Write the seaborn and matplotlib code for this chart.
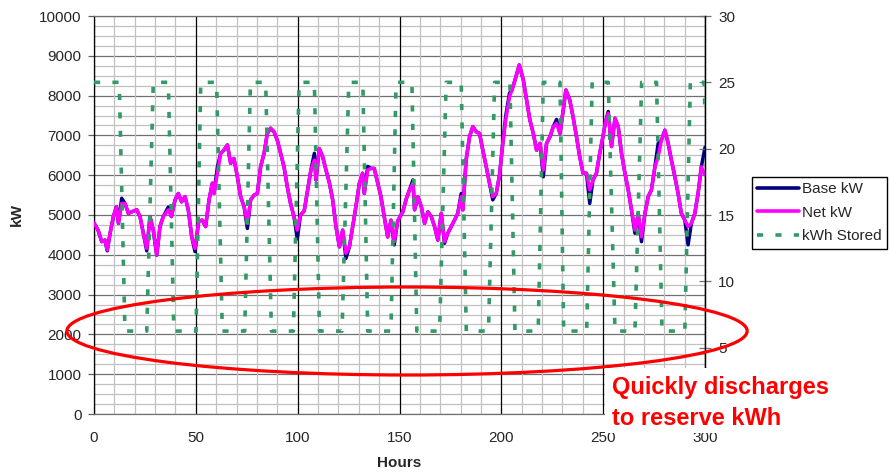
import matplotlib
matplotlib.use("Agg")
import matplotlib.pyplot as plt
import seaborn as sns
import pandas as pd
from matplotlib.patches import Ellipse, Rectangle
from matplotlib.ticker import MultipleLocator
from matplotlib.lines import Line2D

# ---------------- data ----------------
hours = [0, 2, 3.8, 5.4, 6.5, 7.9, 9.5, 11, 12, 13.6,
         15.2, 16.9, 18.5, 21, 22.6, 24.2, 25.9, 27.5, 29.1, 30.8,
         32.4, 34, 36.5, 38, 39.8, 41.4, 43, 44.7, 46.3, 48,
         49.6, 51.4, 53.2, 54.8, 56.5, 58.1, 58.9, 60.6, 62.2, 63.8,
         65.5, 67.1, 68.7, 70.4, 72, 73.7, 75.3, 76.9, 78.6, 80.2,
         81.8, 83.5, 85.1, 86.7, 88.4, 90, 91.6, 93.3, 94.9, 96.5,
         98.2, 99.8, 101.4, 103.2, 104.9, 106.5, 108.2, 109, 110.6, 112.3,
         113.9, 115.6, 117.2, 118.8, 120.5, 122.1, 123.7, 125.4, 127, 128.6,
         130.3, 131.9, 132.7, 134.4, 136, 137.6, 139.3, 140.9, 142.5, 144.2,
         145.8, 147.4, 149.1, 151.6, 153.3, 154.9, 156.6, 157.4, 159, 160.7,
         162.3, 163.9, 165.6, 167.2, 168.8, 170.5, 172.1, 173.7, 175.4, 177,
         178.6, 180.3, 181.1, 182.7, 184.4, 186, 187.7, 189.3, 190.9, 192.6,
         194.2, 195.8, 197.5, 199.1, 200.7, 202.2, 204, 205.2, 206.7, 208.8,
         210.8, 212.4, 214, 215.7, 217.3, 219, 220.6, 222.2, 223.9, 225.5,
         227.1, 228.8, 230.4, 231.7, 233.6, 235.2, 236.9, 238.5, 240.1, 241.8,
         243.4, 245, 246.7, 248.3, 249.9, 251.2, 252.5, 254.1, 255.8, 257.4,
         259, 260.7, 262.3, 263.9, 265.6, 267.2, 268.8, 270.5, 272.1, 273.7,
         275.4, 277, 278.6, 280.3, 281.9, 283.5, 285.2, 286.8, 288.4, 290.1,
         291.7, 293.3, 295, 296.6, 298.2, 300]

net_kw = [4800, 4620, 4330, 4370, 4120, 4540, 4960, 5210, 4790, 5290,
          5290, 5040, 5080, 5130, 4960, 4540, 4160, 4960, 4620, 3990,
          4710, 4960, 5130, 4960, 5380, 5540, 5330, 5460, 5130, 4450,
          4160, 4850, 4870, 4710, 5380, 5800, 5540, 6050, 6550, 6630,
          6760, 6300, 6420, 5960, 5460, 5210, 4790, 5380, 5500, 5540,
          6210, 6550, 7050, 7180, 7090, 6880, 6550, 6210, 5710, 5290,
          4960, 4620, 5000, 5100, 5630, 6130, 6380, 5880, 6670, 6460,
          6130, 5800, 5380, 4710, 4200, 4620, 4040, 4200, 4710, 5210,
          5800, 6050, 5540, 6130, 6170, 6170, 5800, 5460, 4960, 4450,
          4870, 4330, 4850, 5080, 5400, 5630, 5800, 5130, 5460, 5210,
          4790, 5080, 4960, 4710, 4370, 5040, 4330, 4540, 4710, 4870,
          5040, 5460, 5130, 6380, 6970, 7220, 7090, 7050, 6630, 6210,
          5800, 5460, 5540, 6000, 6800, 7400, 7970, 8140, 8390, 8770,
          8390, 7890, 7390, 7050, 6630, 6800, 6130, 6800, 6970, 7220,
          7300, 7050, 7640, 8140, 7890, 7470, 6970, 6460, 6050, 6050,
          5630, 5880, 6050, 6550, 6970, 7350, 7550, 6720, 7430, 7220,
          6550, 6050, 5630, 5130, 4620, 5040, 4450, 5040, 5460, 5630,
          6210, 6460, 6880, 7130, 6800, 6380, 5960, 5540, 5040, 4870,
          4710, 4790, 5040, 5540, 6210, 6000]

base_kw = [4800, 4620, 4330, 4370, 4100, 4540, 4960, 5210, 4790, 5420,
           5290, 5040, 5080, 5130, 4960, 4540, 4100, 4960, 4620, 3990,
           4710, 4960, 5200, 4960, 5380, 5540, 5330, 5460, 5130, 4450,
           4080, 4850, 4870, 4710, 5380, 5800, 5540, 6210, 6550, 6630,
           6760, 6300, 6420, 5960, 5460, 5210, 4660, 5380, 5500, 5540,
           6210, 6550, 7050, 7180, 7090, 6880, 6550, 6210, 5710, 5290,
           4960, 4400, 5000, 5100, 5630, 6130, 6550, 5880, 6670, 6460,
           6130, 5800, 5380, 4710, 4200, 4620, 3910, 4200, 4710, 5210,
           5800, 6050, 5540, 6220, 6170, 6170, 5800, 5460, 4960, 4450,
           4870, 4250, 4850, 5080, 5400, 5630, 5880, 5130, 5460, 5210,
           4790, 5080, 4960, 4710, 4370, 5040, 4290, 4540, 4710, 4870,
           5040, 5540, 5130, 6380, 6970, 7220, 7090, 7050, 6630, 6210,
           5800, 5380, 5540, 6000, 6800, 7500, 8060, 8140, 8390, 8770,
           8390, 7890, 7390, 7050, 6630, 6800, 5960, 6800, 6970, 7220,
           7400, 7050, 7640, 8140, 7890, 7470, 6970, 6460, 6050, 6050,
           5290, 5880, 6050, 6550, 6970, 7350, 7600, 6720, 7430, 7220,
           6550, 6050, 5630, 5130, 4540, 5040, 4330, 5040, 5460, 5630,
           6210, 6800, 6880, 7130, 6800, 6380, 5960, 5540, 5040, 4870,
           4250, 4790, 5040, 5540, 6210, 6700]

stored_hours = [0, 12.4, 15.2, 25.9, 29.1, 36.5, 39.2, 50.1, 52.4, 60.2,
                63.0, 74.0, 76.8, 84.3, 87.1, 97.9, 100.7, 108.2, 110.7, 121.8,
                125.1, 132.0, 134.4, 145.8, 148.3, 156.1, 158.5, 169.7, 172.9, 180.3,
                182.8, 193.7, 196.7, 204.2, 206.7, 218.1, 220.6, 228.8, 230.6, 241.9,
                244.6, 252.5, 255.8, 265.6, 268.9, 276.2, 278.9, 290.1, 292.8, 299.6,
                300]
stored_kwh = [25, 25, 6.25, 6.25, 25, 25, 6.25, 6.25, 25, 25,
              6.25, 6.25, 25, 25, 6.25, 6.25, 25, 25, 6.25, 6.25,
              25, 25, 6.25, 6.25, 25, 25, 6.25, 6.25, 25, 25,
              6.25, 6.25, 25, 25, 6.25, 6.25, 25, 25, 6.25, 6.25,
              25, 25, 6.25, 6.25, 25, 25, 6.25, 6.25, 25, 25,
              22.5]

x_ticks = [0, 50, 100, 150, 200, 250, 300]
left_ticks = [0, 1000, 2000, 3000, 4000, 5000, 6000, 7000, 8000, 9000, 10000]
right_ticks = [5, 10, 15, 20, 25, 30]
series_names = ["Base kW", "Net kW", "kWh Stored"]
annotation = "Quickly discharges\nto reserve kWh"

# ---------------- styling ----------------
sns.set_style("white")
plt.rcParams['font.family'] = ['Liberation Sans', 'DejaVu Sans']

W, H = 890, 476
fig = plt.figure(figsize=(W / 100, H / 100), dpi=100)
L, R, T, B = 94, 705, 16, 414
ax = fig.add_axes([L / W, 1 - B / H, (R - L) / W, (B - T) / H])

load = pd.DataFrame({"hours": hours, "base": base_kw, "net": net_kw})
store = pd.DataFrame({"hours": stored_hours, "kwh": stored_kwh})

NAVY, MAG, GREEN = "#000080", "#ff00ff", "#339966"
sns.lineplot(data=load, x="hours", y="base", ax=ax, color=NAVY, lw=2.5,
             sort=False, zorder=3)
sns.lineplot(data=load, x="hours", y="net", ax=ax, color=MAG, lw=2.5,
             sort=False, zorder=4)

ax.set_xlim(0, 300)
ax.set_ylim(0, 10000)
ax.set_xticks(x_ticks)
ax.set_yticks(left_ticks)
ax.xaxis.set_minor_locator(MultipleLocator(10))
ax.yaxis.set_minor_locator(MultipleLocator(250))
ax.set_axisbelow(True)
ax.xaxis.set_zorder(0.6)   # vertical grid lines on top of horizontal ones
ax.grid(which="minor", axis="both", color="#c0c0c0", lw=0.9)
ax.grid(which="major", axis="y", color="#707070", lw=0.9)
ax.grid(which="major", axis="x", color="black", lw=0.9)
ax.tick_params(which="minor", length=0)
ax.tick_params(axis="y", which="major", direction="out", length=4,
               width=0.9, color="#606060", labelsize=11, pad=5)
ax.tick_params(axis="x", which="major", direction="out", length=4,
               width=0.9, color="#303030", labelsize=11, pad=8)
for s in ["left", "right"]:
    ax.spines[s].set_color("black")
for s in ["top", "bottom"]:
    ax.spines[s].set_color("#707070")
for s in ax.spines.values():
    s.set_linewidth(0.9)

ax.set_xlabel("Hours", fontsize=11, fontweight="bold")
ax.set_ylabel("kW", fontsize=11, fontweight="bold")
ax.xaxis.set_label_coords(0.5, -0.105)
ax.yaxis.set_label_coords(-0.115, 0.5)

ax2 = ax.twinx()
sns.lineplot(data=store, x="hours", y="kwh", ax=ax2, color=GREEN, lw=2.6,
             linestyle=(0, (1.7, 3.4)), sort=False, zorder=5)
ax2.set_ylim(0, 30)
ax2.set_yticks(right_ticks)
ax2.set_ylabel("")
ax2.grid(False)
ax2.tick_params(axis="y", direction="inout", length=9, width=0.9,
                color="#707070", labelsize=11, pad=5)
for s in ["left", "top", "bottom"]:
    ax2.spines[s].set_visible(False)
ax2.spines["right"].set_color("black")
ax2.spines["right"].set_linewidth(0.9)

# red ellipse
ell = Ellipse((153.7, 2085), 334, 2211, transform=ax.transData,
              fill=False, edgecolor="red", lw=2.3, clip_on=False, zorder=20)
ax2.add_patch(ell)

# legend
handles = [Line2D([], [], color=NAVY, lw=2.6),
           Line2D([], [], color=MAG, lw=2.6),
           Line2D([], [], color=GREEN, lw=2.6, linestyle=(0, (1.7, 3.4)))]
leg = fig.legend(handles, series_names, loc="upper left",
                 bbox_to_anchor=(752 / W, 1 - 177 / H),
                 frameon=True, fancybox=False, framealpha=1,
                 edgecolor="black", fontsize=11, handlelength=2.7,
                 handletextpad=0.2, labelspacing=0.62, borderpad=0.35,
                 borderaxespad=0)
leg.get_frame().set_linewidth(1.0)

# white box with annotation
fig.add_artist(Rectangle((605 / W, 1 - 433 / H), (845 - 605) / W, (433 - 368) / H,
                         transform=fig.transFigure, facecolor="white",
                         edgecolor="none", zorder=30))
fig.text(612 / W, 1 - 376 / H, annotation, color="red", fontsize=17,
         fontweight="bold", ha="left", va="top", linespacing=1.45, zorder=31)

fig.savefig("out.png", dpi=100)
